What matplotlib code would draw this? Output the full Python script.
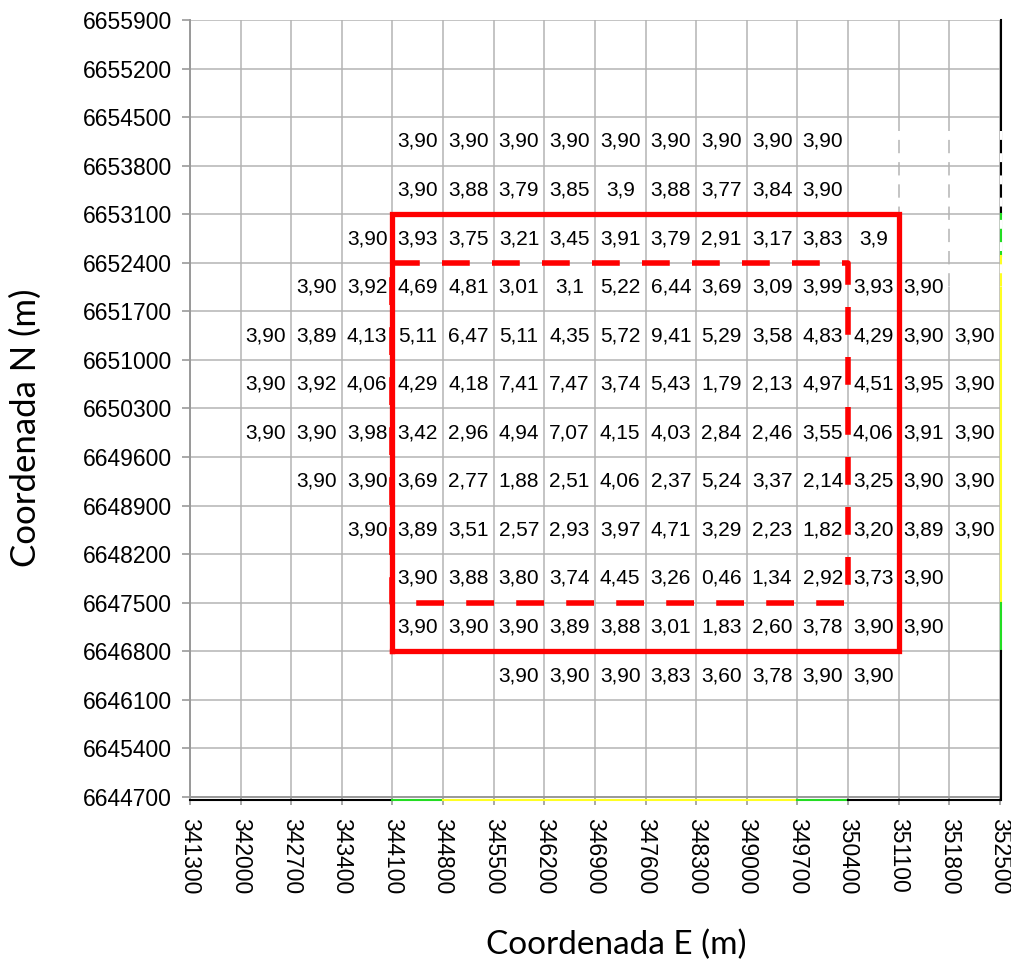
import numpy as np
import matplotlib.pyplot as plt

# tick positions (m)
e_ticks = np.arange(341300, 352501, 700)
n_ticks = np.arange(6644700, 6655901, 700)

# cell centres: northing of each row, easting of the first value in the row
row_n = [6654150, 6653450, 6652750, 6652050, 6651350, 6650650,
         6649950, 6649250, 6648550, 6647850, 6647150, 6646450]
row_e0 = [344450, 344450, 343750, 343050, 342350, 342350,
          342350, 343050, 343750, 344450, 344450, 345850]
row_vals = [
    ["3,90", "3,90", "3,90", "3,90", "3,90", "3,90", "3,90", "3,90", "3,90"],
    ["3,90", "3,88", "3,79", "3,85", "3,9", "3,88", "3,77", "3,84", "3,90"],
    ["3,90", "3,93", "3,75", "3,21", "3,45", "3,91", "3,79", "2,91", "3,17", "3,83", "3,9"],
    ["3,90", "3,92", "4,69", "4,81", "3,01", "3,1", "5,22", "6,44", "3,69", "3,09", "3,99", "3,93", "3,90"],
    ["3,90", "3,89", "4,13", "5,11", "6,47", "5,11", "4,35", "5,72", "9,41", "5,29", "3,58", "4,83", "4,29", "3,90", "3,90"],
    ["3,90", "3,92", "4,06", "4,29", "4,18", "7,41", "7,47", "3,74", "5,43", "1,79", "2,13", "4,97", "4,51", "3,95", "3,90"],
    ["3,90", "3,90", "3,98", "3,42", "2,96", "4,94", "7,07", "4,15", "4,03", "2,84", "2,46", "3,55", "4,06", "3,91", "3,90"],
    ["3,90", "3,90", "3,69", "2,77", "1,88", "2,51", "4,06", "2,37", "5,24", "3,37", "2,14", "3,25", "3,90", "3,90"],
    ["3,90", "3,89", "3,51", "2,57", "2,93", "3,97", "4,71", "3,29", "2,23", "1,82", "3,20", "3,89", "3,90"],
    ["3,90", "3,88", "3,80", "3,74", "4,45", "3,26", "0,46", "1,34", "2,92", "3,73", "3,90"],
    ["3,90", "3,90", "3,90", "3,89", "3,88", "3,01", "1,83", "2,60", "3,78", "3,90", "3,90"],
    ["3,90", "3,90", "3,90", "3,83", "3,60", "3,78", "3,90", "3,90"],
]

# outer (solid) and inner (dashed) blocks: E min, E max, N min, N max
outer_box = [344100, 351100, 6646800, 6653100]
inner_box = [344100, 350400, 6647500, 6652400]

plt.rcParams['font.family'] = ['Liberation Sans', 'DejaVu Sans']

fig = plt.figure(figsize=(10.12, 9.68), dpi=100)
ax = fig.add_axes([0.1877, 0.1767, 0.8003, 0.8026])

ax.set_xlim(e_ticks[0], e_ticks[-1])
ax.set_ylim(n_ticks[0], n_ticks[-1])
ax.set_xticks(e_ticks)
ax.set_yticks(n_ticks)
ax.set_xticklabels([str(v) for v in e_ticks], rotation=270, fontsize=16.5)
ax.set_yticklabels([str(v) for v in n_ticks], fontsize=16.5)
ax.grid(True, color='#b4b4b4', lw=1.1)
ax.set_axisbelow(True)
ax.tick_params(axis='both', color='#999999', length=6, width=1.2)
ax.tick_params(axis='x', pad=9)
ax.tick_params(axis='y', pad=7)
for s in ['top', 'right']:
    ax.spines[s].set_visible(False)
for s in ['left', 'bottom']:
    ax.spines[s].set_color('#999999')
    ax.spines[s].set_linewidth(1.4)

for n, e0, vals in zip(row_n, row_e0, row_vals):
    for i, v in enumerate(vals):
        ax.text(e0 + 700 * i, n, v, ha='center', va='center', fontsize=15)

x0, x1, y0, y1 = outer_box
ax.plot([x0, x1, x1, x0, x0], [y0, y0, y1, y1, y0], color='red', lw=3.8,
        solid_joinstyle='miter', zorder=5)
x0, x1, y0, y1 = inner_box
ax.plot([x0, x1, x1, x0, x0], [y1, y1, y0, y0, y1], color='red', lw=4,
        linestyle=(0, (5, 4)), zorder=5)

# coloured edge segments along the bottom and right borders
bottom_segs = [(341300, 344100, 'black'), (344100, 344800, '#22dd22'),
               (344800, 349700, '#ffff22'), (349700, 350400, '#22dd22'),
               (350400, 352500, 'black')]
for a, b, c in bottom_segs:
    ax.plot([a, b], [6644660, 6644660], color=c, lw=1.5, clip_on=False, zorder=4)
right_segs = [(6655900, 6653100, 'black'), (6653100, 6652500, '#22dd22'),
              (6652500, 6647500, '#ffff22'), (6647500, 6646800, '#22dd22'),
              (6646800, 6644660, 'black')]
for a, b, c in right_segs:
    ax.plot([352510, 352510], [a, b], color=c, lw=1.5, clip_on=False, zorder=4)
for xe in [351100, 351800, 352510]:
    ax.plot([xe, xe], [6654300, 6652050], color='white', lw=1.6,
            linestyle=(0, (4, 6)), clip_on=False, zorder=4)

ax.set_xlabel('Coordenada E (m)', fontsize=24, family=['Lato', 'DejaVu Sans'])
ax.set_ylabel('Coordenada N (m)', fontsize=25, family=['Lato', 'DejaVu Sans'])
ax.xaxis.set_label_coords(0.526, -0.171)
ax.yaxis.set_label_coords(-0.183, 0.475)

fig.savefig('out.png', dpi=100)
